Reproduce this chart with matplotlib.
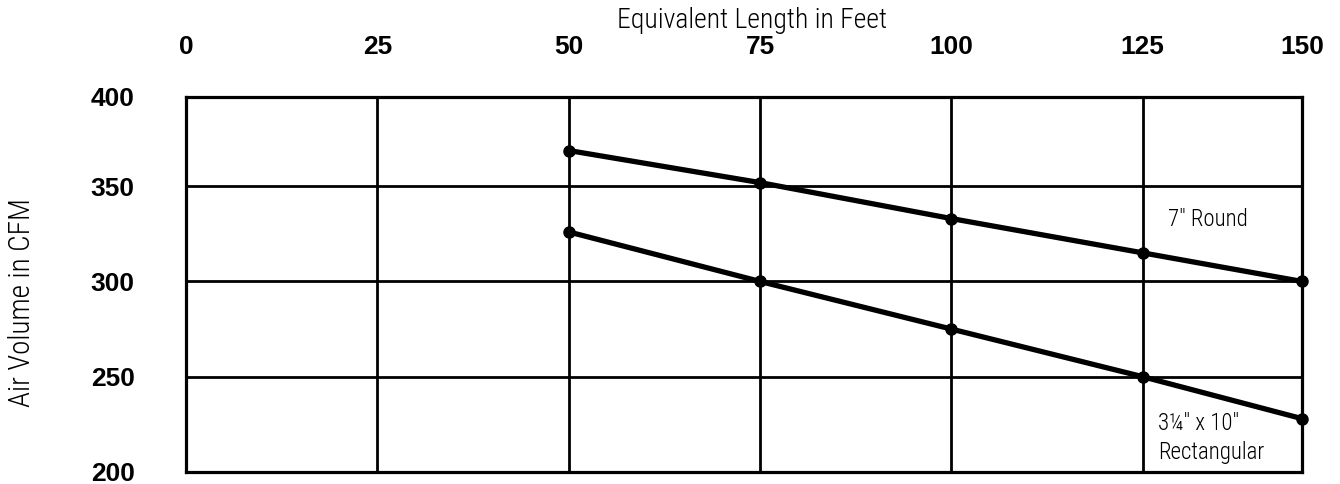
import numpy as np
import matplotlib
matplotlib.use("Agg")
import matplotlib.pyplot as plt

# equivalent length (ft) and air volume (CFM)
length_ft = [50, 75, 100, 125, 150]
round_7in = [370, 352, 333, 315, 300]
rect_3x10 = [326, 300, 275, 250, 228]
x_ticks = [0, 25, 50, 75, 100, 125, 150]
y_ticks = [200, 250, 300, 350, 400]

# the printed grid is not evenly spaced (last column / top row are narrower)
x_data = [0, 125, 150]
x_pos = [0, 125, 145.8]
y_data = [200, 350, 400]
y_pos = [200, 350, 396.8]


def xf(v):
    return np.interp(v, x_data, x_pos)


def xi(v):
    return np.interp(v, x_pos, x_data)


def yf(v):
    return np.interp(v, y_data, y_pos)


def yi(v):
    return np.interp(v, y_pos, y_data)


narrow = ['Roboto Condensed', 'Liberation Sans Narrow', 'DejaVu Sans']

fig = plt.figure(figsize=(13.4, 4.84), dpi=100)
ax = fig.add_axes([186 / 1340, 1 - 472 / 484, (1302 - 186) / 1340, (472 - 97) / 484])

ax.set_xscale('function', functions=(xf, xi))
ax.set_yscale('function', functions=(yf, yi))
ax.set_xlim(0, 150)
ax.set_ylim(200, 400)

ax.set_xticks(x_ticks)
ax.set_yticks(y_ticks)
ax.xaxis.tick_top()
ax.tick_params(length=0)
ax.tick_params(axis='x', pad=27)
ax.tick_params(axis='y', pad=37)
for lab in ax.get_xticklabels() + ax.get_yticklabels():
    lab.set_fontfamily('Liberation Sans')
    lab.set_fontweight('bold')
    lab.set_fontsize(19)

ax.grid(True, color='black', linewidth=2.0)
for s in ax.spines.values():
    s.set_linewidth(2.3)
    s.set_zorder(5)

ax.plot(length_ft, round_7in, color='black', linewidth=3.8, marker='o',
        markersize=8, clip_on=False, zorder=6)
ax.plot(length_ft, rect_3x10, color='black', linewidth=3.8, marker='o',
        markersize=8, clip_on=False, zorder=6)

fig.text(752 / 1340, 1 - 20 / 484, 'Equivalent Length in Feet', family=narrow,
         weight='light', fontsize=20, ha='center', va='center')
fig.text(22 / 1340, 1 - 303 / 484, 'Air Volume in CFM', family=narrow,
         weight='light', fontsize=21, ha='center', va='center', rotation=90)

fig.text(1168 / 1340, 1 - 219 / 484, '7\u2033 Round', family=narrow,
         weight='light', fontsize=16.5, ha='left', va='center')
fig.text(1158 / 1340, 1 - 423 / 484, '3\u00bc\u2033 x 10\u2033', family=narrow,
         weight='light', fontsize=16.5, ha='left', va='center')
fig.text(1158 / 1340, 1 - 452 / 484, 'Rectangular', family=narrow,
         weight='light', fontsize=16.5, ha='left', va='center')

fig.savefig('out.png', dpi=100)
